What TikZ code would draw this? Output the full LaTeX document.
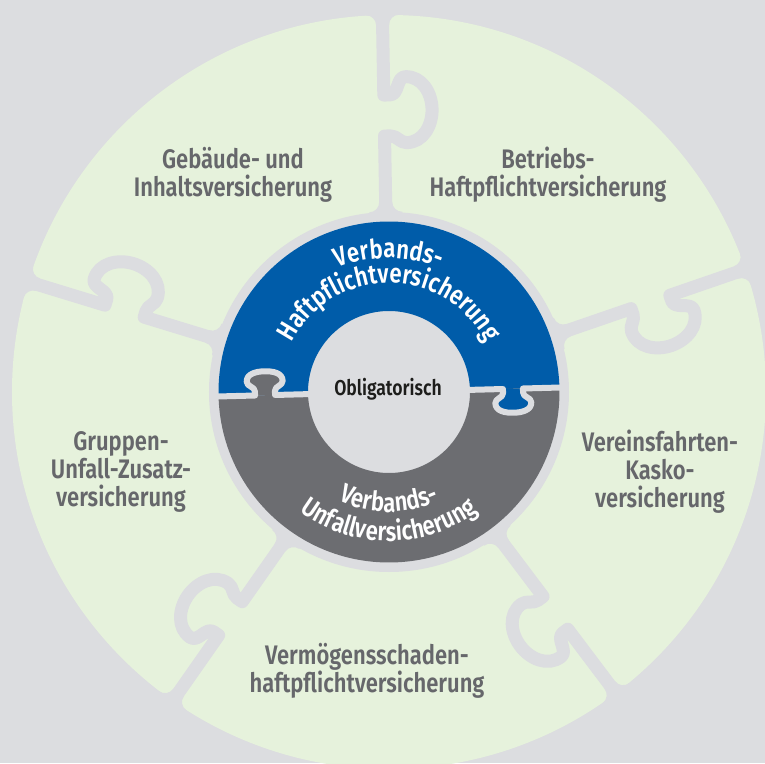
\documentclass[tikz,border=0pt]{standalone}
\usepackage{fontspec}
\setmainfont{Fira Sans}
\newfontfamily\labelfont{Fira Sans SemiBold}[FakeStretch=0.82]
\usetikzlibrary{decorations.text}

\definecolor{bggray}{HTML}{DCDDE0}
\definecolor{piecegreen}{HTML}{E6F2DC}
\definecolor{ringblue}{HTML}{005CA9}
\definecolor{ringgray}{HTML}{6C6D71}
\definecolor{labelgray}{HTML}{66676B}
\definecolor{centertext}{HTML}{1D1D1B}

\begin{document}
\begin{tikzpicture}[x=1pt,y=1pt,
  seam/.style={draw=bggray,line width=13pt,line join=round,line cap=round},
  split/.style={draw=bggray,line width=6pt,line join=round},
  piecelabel/.style={font=\labelfont\fontsize{26.8}{28}\selectfont,text=labelgray,align=center,inner sep=0pt},
  ringtext/.style={decorate,decoration={text along path,text align=center,text color=white,
    text={|\labelfont\fontsize{27}{27}\selectfont|#1}}}]
\useasboundingbox (-389,-371) rectangle (376,392);
\fill[bggray] (-389,-371) rectangle (376,392);
\fill[piecegreen] (0,0) circle[radius=377];
\fill[bggray] (0,0) circle[radius=180];
\foreach \a in {91,19,-53,-125,163}{
  \begin{scope}[rotate=\a]
    \draw[seam] (175,0) -- (256,0) -- (256,-6) to[out=-90,in=90] (249,-22) to[out=-90,in=180] (282,-48)
      to[out=0,in=-90] (315,-22) to[out=90,in=-90] (297,-6) -- (297,0) -- (385,0);
    \fill[bggray] (367,6.5) arc[start angle=-90,end angle=0,radius=10] -- (392,16.5) -- (392,-16.5)
      -- (377,-16.5) arc[start angle=0,end angle=90,radius=10] -- cycle;
    \fill[bggray] (190,6.5) arc[start angle=-90,end angle=-180,radius=10] -- (172,16.5) -- (172,-16.5)
      -- (180,-16.5) arc[start angle=180,end angle=90,radius=10] -- cycle;
  \end{scope}
}
\begin{scope}[rotate=1.5]
  \fill[ringblue] (170.5,0) arc[start angle=0,end angle=180,radius=170.5] -- (-81,0) arc[start angle=180,end angle=0,radius=81] -- cycle;
  \fill[ringgray] (170.5,0) arc[start angle=0,end angle=-180,radius=170.5] -- (-81,0) arc[start angle=-180,end angle=0,radius=81] -- cycle;
  \fill[ringgray] (-134,0) -- (-134,4) to[out=90,in=-90] (-142,14) to[out=90,in=180] (-124,24)
    to[out=0,in=90] (-106,14) to[out=-90,in=90] (-114,4) -- (-114,0) -- cycle;
  \fill[ringblue] (114,0) -- (114,-4) to[out=-90,in=90] (106,-14) to[out=-90,in=180] (124,-24)
    to[out=0,in=-90] (142,-14) to[out=90,in=-90] (134,-4) -- (134,0) -- cycle;
  \draw[split] (-175,0) -- (-134,0) -- (-134,4) to[out=90,in=-90] (-142,14) to[out=90,in=180] (-124,24)
    to[out=0,in=90] (-106,14) to[out=-90,in=90] (-114,4) -- (-114,0) -- (114,0) -- (114,-4)
    to[out=-90,in=90] (106,-14) to[out=-90,in=180] (124,-24) to[out=0,in=-90] (142,-14)
    to[out=90,in=-90] (134,-4) -- (134,0) -- (175,0);
\end{scope}
\path[ringtext={Verbands-}] (-134,0) arc[start angle=180,end angle=0,radius=134];
\path[ringtext={Haftpflichtversicherung}] (-109,0) arc[start angle=180,end angle=0,radius=109];
\path[ringtext={Verbands-}] (-120,0) arc[start angle=180,end angle=360,radius=120];
\path[ringtext={Unfallversicherung}] (-149,0) arc[start angle=180,end angle=360,radius=149];
\node[font=\labelfont\fontsize{21.5}{21.5}\selectfont,text=centertext] (Obligatorisch) at (-1,3) {Obligatorisch};
\node[piecelabel] (Gebaeude) at (-156,217) {Gebäude- und\\Inhaltsversicherung};
\node[piecelabel] (Betriebs) at (159,217) {Betriebs-\\Haftpflichtversicherung};
\node[piecelabel] (Gruppen) at (-268,-80) {Gruppen-\\Unfall-Zusatz-\\versicherung};
\node[piecelabel] (Vereinsfahrten) at (271,-80) {Vereinsfahrten-\\Kasko-\\versicherung};
\node[piecelabel] (Vermoegen) at (-22,-279) {Vermögensschaden-\\haftpflichtversicherung};
\end{tikzpicture}
\end{document}
